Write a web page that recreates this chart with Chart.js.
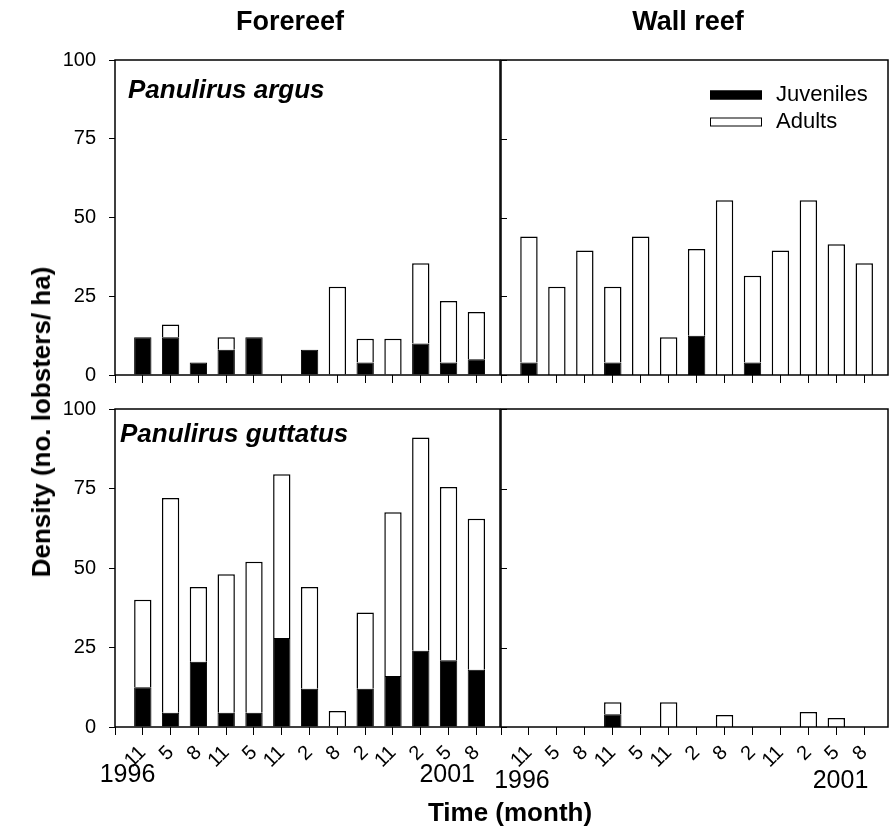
<!DOCTYPE html>
<html>
<head>
<meta charset="utf-8">
<title>Densidad de langostas</title>
<script src="https://cdn.jsdelivr.net/npm/chart.js@4/dist/chart.umd.min.js"></script>
<style>
  html, body { margin: 0; padding: 0; background: #fff; }
  #fig { position: relative; width: 891px; height: 831px; overflow: hidden;
         font-family: "Liberation Sans", Arial, sans-serif; color: #000; }
  #fig canvas { position: absolute; left: 0; top: 0; }
  .txt { position: absolute; line-height: 1; white-space: nowrap; }
  .col { font-size: 27px; font-weight: bold; transform: translateX(-50%); }
  .species { font-size: 26px; font-weight: bold; font-style: italic; }
  .axis-title { font-size: 26px; font-weight: bold; }
</style>
</head>
<body>
<div id="fig">
  <canvas id="c-tl" width="891" height="831"></canvas>
  <canvas id="c-tr" width="891" height="831"></canvas>
  <canvas id="c-bl" width="891" height="831"></canvas>
  <canvas id="c-br" width="891" height="831"></canvas>

  <div class="txt col" style="left:290px; top:8px">Forereef</div>
  <div class="txt col" style="left:688px; top:8px">Wall reef</div>
  <div class="txt species" style="left:128px; top:76px">Panulirus argus</div>
  <div class="txt species" style="left:120px; top:420px">Panulirus guttatus</div>
  <div class="txt axis-title" style="left:41px; top:422px; transform: translate(-50%, -50%) rotate(-90deg)">Density (no. lobsters/ ha)</div>
  <div class="txt axis-title" style="left:510px; top:799px; transform: translateX(-50%)">Time (month)</div>
</div>
<script>
  // sampling months (1996 -> 2001), one bar per survey
  var MONTHS = ["11", "5", "8", "11", "5", "11", "2", "8", "2", "11", "2", "5", "8"];
  var YEARS = ["1996", "2001"];
  var Y_TICKS = [0, 25, 50, 75, 100];

  // Panulirus argus
  var FORE_ARGUS_JUV = [12, 12, 4, 8, 12, 0, 8, 0, 4, 0, 10, 4, 5];
  var FORE_ARGUS_ADU = [0, 4, 0, 4, 0, 0, 0, 28, 7.5, 11.5, 25.5, 19.5, 15];
  var WALL_ARGUS_JUV = [4, 0, 0, 4, 0, 0, 12.5, 0, 4, 0, 0, 0, 0];
  var WALL_ARGUS_ADU = [40, 28, 39.5, 24, 44, 12, 27.5, 55.5, 27.5, 39.5, 55.5, 41.5, 35.5];

  // Panulirus guttatus
  var FORE_GUTT_JUV = [12.5, 4.5, 20.5, 4.5, 4.5, 28, 12, 0, 12, 16, 24, 21, 18];
  var FORE_GUTT_ADU = [27.5, 67.5, 23.5, 43.5, 47.5, 51.5, 32, 5, 24, 51.5, 67, 54.5, 47.5];
  var WALL_GUTT_JUV = [0, 0, 0, 4, 0, 0, 0, 0, 0, 0, 0, 0, 0];
  var WALL_GUTT_ADU = [0, 0, 0, 3.8, 0, 7.8, 0, 3.8, 0, 0, 4.7, 2.8, 0];

  var FONT = "'Liberation Sans', Arial, sans-serif";
  var W = 891, H = 831;
  var POSITIONS = MONTHS.map(function (m, i) { return i + 1; });

  Chart.defaults.font.family = FONT;
  Chart.defaults.color = "#000";

  // box around each panel, inward ticks, year labels and legend
  var panelDecor = {
    id: "panelDecor",
    afterDraw: function (chart, args, opts) {
      var ctx = chart.ctx, a = chart.chartArea;
      var xs = chart.scales.x, ys = chart.scales.y;
      ctx.save();
      ctx.strokeStyle = "#000";
      ctx.lineWidth = 1.5;
      ctx.strokeRect(a.left, a.top, a.right - a.left, a.bottom - a.top);
      if (opts.innerTicks) {
        ctx.lineWidth = 1;
        ys.ticks.forEach(function (t) {
          var py = Math.round(ys.getPixelForValue(t.value)) + 0.5;
          ctx.beginPath();
          ctx.moveTo(a.left, py);
          ctx.lineTo(a.left + 6, py);
          ctx.stroke();
        });
      }
      if (opts.years) {
        ctx.fillStyle = "#000";
        ctx.font = "25px " + FONT;
        ctx.textAlign = "center";
        ctx.textBaseline = "alphabetic";
        opts.years.forEach(function (yr) {
          ctx.fillText(yr.text, xs.getPixelForValue(yr.at), a.bottom + opts.yearDy);
        });
      }
      if (opts.legend) {
        var lg = opts.legend;
        chart.data.datasets.forEach(function (ds, i) {
          var ly = lg.y + i * lg.gap;
          ctx.fillStyle = ds.backgroundColor;
          ctx.fillRect(lg.x, ly - 4.5, 52, 9);
          ctx.strokeStyle = "#000";
          ctx.lineWidth = 1;
          ctx.strokeRect(lg.x + 0.5, ly - 4, 51, 8);
          ctx.fillStyle = "#000";
          ctx.font = "22px " + FONT;
          ctx.textAlign = "left";
          ctx.textBaseline = "middle";
          ctx.fillText(ds.label, lg.x + 66, ly);
        });
      }
      ctx.restore();
    }
  };

  function makePanel(id, box, juv, adu, opt) {
    var yW = 60, xH = 70;
    return new Chart(document.getElementById(id), {
      type: "bar",
      data: {
        labels: POSITIONS,
        datasets: [
          { label: "Juveniles", data: juv, backgroundColor: "#000", borderColor: "#000", borderWidth: 1 },
          { label: "Adults", data: adu, backgroundColor: "#fff", borderColor: "#000", borderWidth: 1.5 }
        ]
      },
      options: {
        responsive: false,
        animation: false,
        events: [],
        datasets: { bar: { barPercentage: 0.78, categoryPercentage: 0.8 } },
        layout: { padding: { left: box.left - yW, top: box.top, right: W - box.right, bottom: H - box.bottom - xH } },
        plugins: {
          legend: { display: false },
          tooltip: { enabled: false },
          panelDecor: opt.decor
        },
        scales: {
          x: {
            type: "linear",
            min: 0,
            max: 13.85,
            offset: false,
            stacked: true,
            afterFit: function (s) { s.height = xH; },
            border: { display: false },
            grid: { offset: false, drawOnChartArea: false, drawTicks: true, tickLength: 8, color: "#000", lineWidth: 1 },
            ticks: {
              display: opt.monthLabels,
              stepSize: 1,
              includeBounds: false,
              autoSkip: false,
              minRotation: 45,
              maxRotation: 45,
              padding: 6,
              font: { size: 20 },
              color: "#000",
              callback: function (v) { return MONTHS[v - 1] || ""; }
            }
          },
          y: {
            min: 0,
            max: 100,
            stacked: true,
            afterFit: function (s) { s.width = yW; },
            afterBuildTicks: function (s) { s.ticks = Y_TICKS.map(function (v) { return { value: v }; }); },
            border: { display: false },
            grid: { display: opt.yLabels, drawOnChartArea: false, drawTicks: true, tickLength: 6, color: "#000", lineWidth: 1 },
            ticks: { display: opt.yLabels, padding: 13, font: { size: 20 }, color: "#000" }
          }
        }
      },
      plugins: [panelDecor]
    });
  }

  var TL = { left: 115, top: 60, right: 500, bottom: 375 };
  var TR = { left: 501, top: 60, right: 888, bottom: 375 };
  var BL = { left: 115, top: 409, right: 500, bottom: 727 };
  var BR = { left: 501, top: 409, right: 888, bottom: 727 };

  makePanel("c-tl", TL, FORE_ARGUS_JUV, FORE_ARGUS_ADU, { yLabels: true, monthLabels: false, decor: {} });
  makePanel("c-tr", TR, WALL_ARGUS_JUV, WALL_ARGUS_ADU, {
    yLabels: false, monthLabels: false,
    decor: { innerTicks: true, legend: { x: 710, y: 95, gap: 27 } }
  });
  makePanel("c-bl", BL, FORE_GUTT_JUV, FORE_GUTT_ADU, {
    yLabels: true, monthLabels: true,
    decor: { years: [{ text: YEARS[0], at: 0.45 }, { text: YEARS[1], at: 11.95 }], yearDy: 55 }
  });
  makePanel("c-br", BR, WALL_GUTT_JUV, WALL_GUTT_ADU, {
    yLabels: false, monthLabels: true,
    decor: { innerTicks: true, years: [{ text: YEARS[0], at: 0.75 }, { text: YEARS[1], at: 12.15 }], yearDy: 61 }
  });
</script>
</body>
</html>
